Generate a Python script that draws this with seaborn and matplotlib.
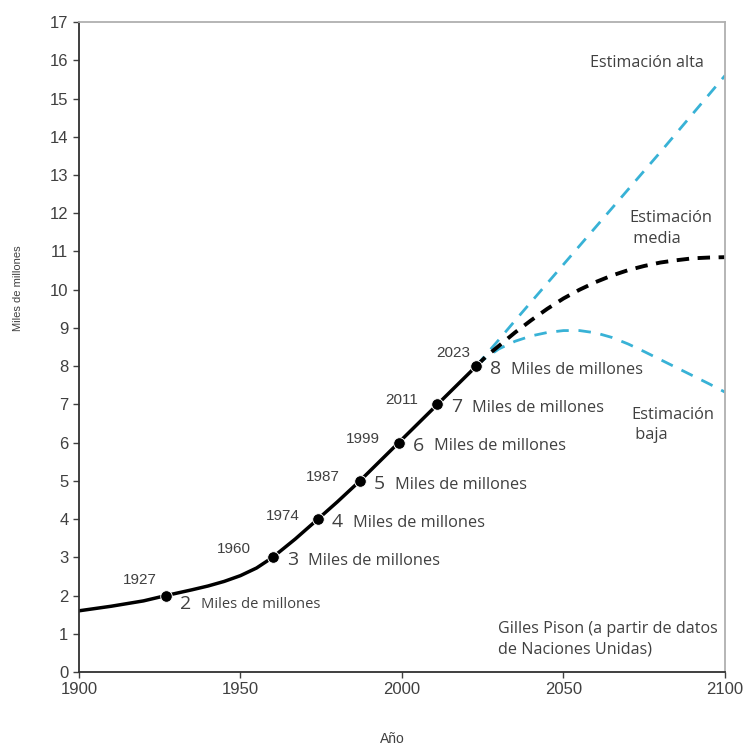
import matplotlib
matplotlib.use('Agg')
import matplotlib.pyplot as plt
import seaborn as sns
import pandas as pd

# historical world population (thousand millions)
hist_years = [1900, 1905, 1910, 1915, 1920, 1927, 1935, 1940, 1945, 1950, 1955, 1960, 1967, 1974, 1980, 1987, 1993, 1999, 2005, 2011, 2017, 2023]
hist_pop = [1.6, 1.66, 1.72, 1.79, 1.86, 2.0, 2.15, 2.25, 2.37, 2.52, 2.72, 3.0, 3.48, 4.0, 4.45, 5.0, 5.5, 6.0, 6.5, 7.0, 7.5, 8.0]

# milestones
mile_years = [1927, 1960, 1974, 1987, 1999, 2011, 2023]
mile_pop = [2, 3, 4, 5, 6, 7, 8]

# projections
proj_years = [2023, 2026, 2030, 2035, 2040, 2045, 2050, 2055, 2060, 2065, 2070, 2075, 2080, 2085, 2090, 2095, 2100]
high_pop = [8.0, 8.3, 8.69, 9.19, 9.68, 10.17, 10.66, 11.15, 11.64, 12.13, 12.62, 13.11, 13.6, 14.1, 14.6, 15.1, 15.6]
mid_pop = [8.0, 8.25, 8.53, 8.88, 9.2, 9.5, 9.77, 10.0, 10.2, 10.37, 10.51, 10.62, 10.71, 10.77, 10.82, 10.84, 10.85]
low_pop = [8.0, 8.22, 8.45, 8.65, 8.79, 8.88, 8.93, 8.93, 8.87, 8.75, 8.58, 8.38, 8.17, 7.96, 7.75, 7.54, 7.32]

sns.set_style('white')
plt.rcParams['font.family'] = ['Liberation Sans', 'DejaVu Sans']

fig = plt.figure(figsize=(7.44, 7.47), dpi=100)
ax = fig.add_axes([0.106, 0.1004, 0.8685, 0.8701])

hist = pd.DataFrame({'year': hist_years, 'pop': hist_pop})
sns.lineplot(data=hist, x='year', y='pop', color='black', linewidth=2.5, ax=ax)

blue = '#38b2d6'
for vals, col in [(high_pop, blue), (low_pop, blue), (mid_pop, 'black')]:
    d = pd.DataFrame({'year': proj_years, 'pop': vals})
    sns.lineplot(data=d, x='year', y='pop', color=col, linewidth=2.8 if col == 'black' else 2,
                 linestyle=(0, (3.2, 2.2)) if col == 'black' else (0, (4.5, 3.5)), ax=ax)

ms = pd.DataFrame({'year': mile_years, 'pop': mile_pop})
sns.scatterplot(data=ms, x='year', y='pop', color='black', s=70, zorder=5, ax=ax)

txt = '#404040'
ann_font = ['Open Sans', 'DejaVu Sans']
year_pos = [(1919, 2.4), (1948, 3.22), (1963, 4.07), (1975.5, 5.1), (1988, 6.1), (2000, 7.12), (2016, 8.35)]
for (yx, yy), yr in zip(year_pos, mile_years):
    ax.text(yx, yy, str(yr), ha='center', va='center', fontsize=11, color=txt)
for yr, p in zip(mile_years, mile_pop):
    dy = -0.22 if p == 2 else -0.08
    ax.text(yr + 4.3, p + dy, str(p), ha='left', va='center', fontsize=14, color=txt, family=ann_font)
    ax.text(yr + 10.8, p + dy - 0.02, 'Miles de millones', ha='left', va='center',
            fontsize=10.6 if p == 2 else 11.8, color=txt, family=ann_font)

ax.text(2058.2, 15.93, 'Estimación alta', ha='left', va='center', fontsize=11.6, color=txt, family=ann_font)
ax.text(2070.3, 11.6, 'Estimación\n media', ha='left', va='center', fontsize=11.8, color=txt,
        family=ann_font, linespacing=1.35)
ax.text(2070.9, 6.46, 'Estimación\n baja', ha='left', va='center', fontsize=11.8, color=txt,
        family=ann_font, linespacing=1.35)
ax.text(2029.7, 0.86, 'Gilles Pison (a partir de datos\nde Naciones Unidas)', ha='left', va='center',
        fontsize=11.6, color=txt, family=ann_font, linespacing=1.35)

ax.set_xlim(1900, 2100)
ax.set_ylim(0, 17)
ax.set_xticks([1900, 1950, 2000, 2050, 2100])
ax.set_yticks(range(0, 18))
ax.tick_params(axis='both', labelsize=12, labelcolor=txt, direction='out', length=4, width=1,
               color='#404040', bottom=True, left=True)
ax.set_xlabel('Año', fontsize=10, color=txt)
ax.set_ylabel('Miles de millones', fontsize=8, color=txt)
ax.xaxis.set_label_coords(0.485, -0.093)
ax.yaxis.set_label_coords(-0.087, 0.59)
for s in ['left', 'bottom']:
    ax.spines[s].set_color('#303030')
    ax.spines[s].set_linewidth(1.3)
for s in ['top', 'right']:
    ax.spines[s].set_color('#b0b0b0')
    ax.spines[s].set_linewidth(1.3)

fig.savefig('out.png', dpi=100)
